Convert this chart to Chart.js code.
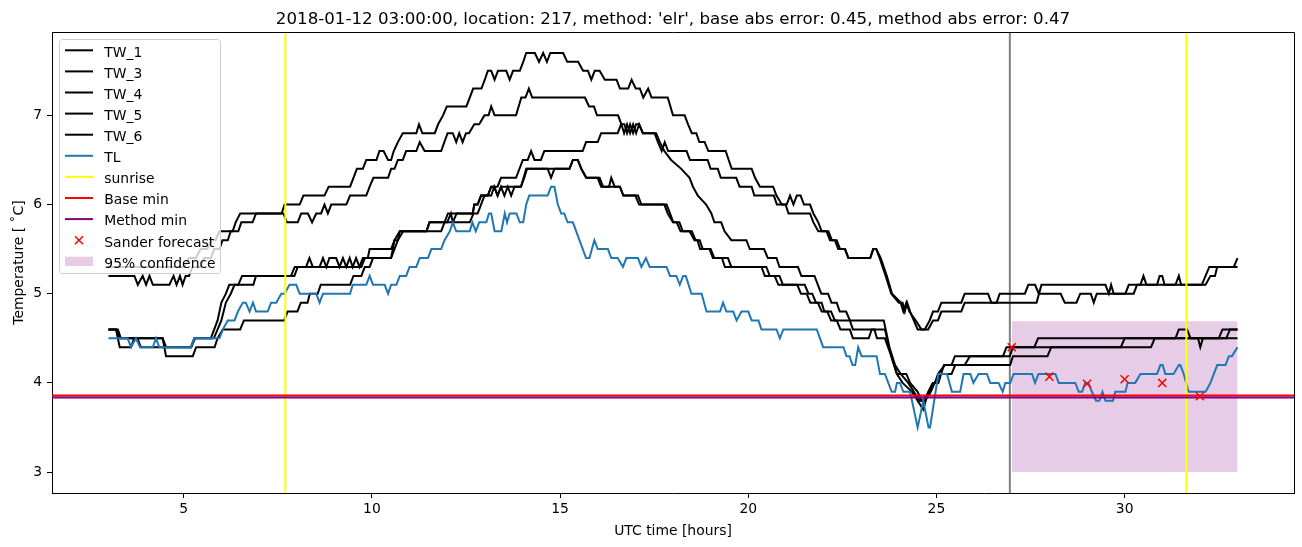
<!DOCTYPE html>
<html>
<head>
<meta charset="utf-8">
<script src="https://cdn.jsdelivr.net/npm/chart.js@4.4.1/dist/chart.umd.min.js"></script>
<style>
  html, body { margin: 0; padding: 0; background: #fff; }
  #wrap { width: 1302px; height: 547px; }
</style>
</head>
<body>
<div id="wrap"><canvas id="chart" width="1302" height="547"></canvas></div>
<script>
const titleText = "2018-01-12 03:00:00, location: 217, method: 'elr', base abs error: 0.45, method abs error: 0.47";
const xLabel = 'UTC time [hours]';
const yLabel = 'Temperature [ \u02daC]';
const xLimits = [1.5, 34.5];
const yLimits = [2.765, 7.935];

// measured series: [UTC hour, temperature]
const tw1 = [[3.0,5.3],[5.01,5.3],[5.14,5.4],[5.32,5.4],[5.45,5.5],[5.63,5.5],[5.72,5.6],[5.85,5.6],[5.94,5.7],[6.3,5.7],[6.38,5.8],[6.5,5.9],[7.6,5.9],[7.68,6.0],[8.08,6.0],[8.18,6.1],[8.74,6.1],[8.85,6.2],[9.42,6.2],[9.51,6.3],[9.6,6.4],[9.76,6.4],[9.85,6.5],[10.12,6.5],[10.2,6.6],[10.31,6.6],[10.43,6.5],[10.51,6.5],[10.58,6.6],[10.69,6.7],[10.82,6.8],[11.18,6.8],[11.25,6.9],[11.34,6.8],[11.67,6.8],[11.76,6.9],[11.89,7.0],[11.99,7.1],[12.51,7.1],[12.6,7.2],[12.69,7.3],[12.91,7.3],[13.0,7.4],[13.08,7.5],[13.17,7.5],[13.26,7.4],[13.35,7.5],[13.57,7.5],[13.66,7.4],[13.75,7.5],[13.93,7.5],[14.02,7.6],[14.1,7.7],[14.33,7.7],[14.44,7.6],[14.55,7.7],[14.65,7.6],[14.74,7.7],[15.08,7.7],[15.19,7.6],[15.48,7.6],[15.61,7.5],[15.74,7.5],[15.83,7.4],[15.92,7.5],[16.05,7.5],[16.19,7.4],[16.5,7.4],[16.59,7.3],[16.81,7.3],[16.9,7.4],[17.01,7.3],[17.12,7.3],[17.21,7.2],[17.34,7.3],[17.43,7.2],[17.86,7.2],[18.0,7.0],[18.31,7.0],[18.4,6.9],[18.5,6.8],[18.62,6.8],[18.7,6.7],[18.84,6.7],[18.94,6.6],[19.4,6.6],[19.48,6.5],[19.56,6.4],[20.09,6.4],[20.18,6.3],[20.31,6.2],[20.66,6.2],[20.75,6.1],[20.89,6.0],[21.02,6.0],[21.11,6.1],[21.2,6.0],[21.29,6.1],[21.39,6.1],[21.48,6.0],[21.64,6.0],[21.73,5.9],[21.86,5.8],[21.95,5.7],[22.13,5.7],[22.22,5.6],[22.3,5.6],[22.39,5.5],[22.57,5.5],[22.66,5.4],[23.24,5.4],[23.32,5.5],[23.4,5.5],[23.49,5.4],[23.65,5.2],[23.8,5.0],[24.0,4.9],[24.1,4.9],[24.16,4.8],[24.22,4.9],[24.3,4.8],[24.5,4.6],[24.69,4.6],[24.82,4.7],[24.91,4.8],[25.04,4.8],[25.13,4.9],[25.66,4.9],[25.75,5.0],[26.37,5.0],[26.46,4.9],[26.6,4.9],[26.68,5.0],[27.35,5.0],[27.44,5.1],[27.62,5.1],[27.72,5.0],[28.3,5.0],[28.41,4.9],[28.72,4.9],[28.82,5.0],[29.1,5.0],[29.18,4.9],[29.26,5.0],[30.02,5.0],[30.11,5.1],[30.42,5.1],[30.5,5.2],[30.58,5.1],[30.86,5.1],[30.93,5.2],[31.0,5.2],[31.06,5.1],[31.35,5.1],[31.44,5.2],[31.5,5.1],[32.15,5.1],[32.28,5.2],[32.4,5.2],[32.46,5.3],[33.0,5.3]];
const tw3 = [[3.0,5.2],[3.69,5.2],[3.78,5.1],[3.91,5.2],[4.0,5.1],[4.09,5.2],[4.18,5.1],[4.62,5.1],[4.73,5.2],[4.81,5.1],[4.9,5.2],[4.97,5.1],[5.05,5.2],[5.14,5.2],[5.23,5.3],[5.45,5.3],[5.54,5.4],[5.72,5.4],[5.81,5.5],[5.95,5.5],[6.03,5.6],[6.17,5.6],[6.25,5.7],[6.45,5.7],[6.53,5.8],[6.83,5.8],[6.92,5.9],[7.65,5.9],[7.74,5.8],[8.03,5.8],[8.12,5.9],[8.3,5.9],[8.41,5.8],[8.52,5.9],[8.65,5.9],[8.74,6.0],[8.83,5.9],[8.92,6.0],[9.32,6.0],[9.42,6.1],[9.85,6.1],[9.94,6.2],[10.04,6.3],[10.43,6.3],[10.51,6.4],[10.6,6.4],[10.69,6.5],[10.82,6.5],[10.91,6.6],[11.18,6.6],[11.27,6.7],[11.4,6.6],[11.84,6.6],[12.01,6.8],[12.15,6.8],[12.24,6.7],[12.32,6.8],[12.41,6.7],[12.5,6.8],[12.58,6.8],[12.72,6.9],[12.85,6.9],[12.99,7.0],[13.1,7.0],[13.17,7.1],[13.26,7.0],[13.83,7.0],[13.97,7.2],[14.08,7.2],[14.17,7.3],[14.26,7.2],[15.66,7.2],[15.77,7.1],[15.9,7.1],[15.98,7.0],[16.54,7.0],[16.63,6.9],[16.7,6.8],[16.78,6.9],[16.86,6.8],[16.94,6.9],[17.02,6.8],[17.1,6.9],[17.2,6.8],[17.51,6.8],[17.6,6.7],[17.7,6.6],[17.78,6.7],[17.87,6.6],[18.36,6.6],[18.45,6.5],[18.92,6.5],[19.0,6.4],[19.19,6.4],[19.27,6.3],[19.68,6.3],[19.77,6.2],[20.09,6.2],[20.16,6.1],[20.68,6.1],[20.76,6.0],[20.99,6.0],[21.07,5.9],[21.64,5.9],[21.73,5.8],[21.86,5.7],[22.08,5.7],[22.17,5.6],[22.35,5.6],[22.44,5.5],[22.57,5.5],[22.66,5.4],[23.24,5.4],[23.32,5.5],[23.4,5.5],[23.52,5.4],[23.68,5.2],[23.82,5.0],[24.05,4.9],[24.12,4.8],[24.2,4.9],[24.28,4.8],[24.45,4.7],[24.6,4.6],[24.78,4.6],[24.91,4.7],[25.04,4.7],[25.13,4.8],[25.66,4.8],[25.75,4.9],[27.66,4.9],[27.79,5.1],[29.49,5.1],[29.58,5.0],[29.64,5.1],[29.71,5.0],[30.24,5.0],[30.33,5.1],[32.05,5.1],[32.15,5.2],[32.25,5.3],[32.9,5.3],[33.0,5.4]];
const tw4 = [[3.0,4.6],[3.2,4.6],[3.3,4.4],[3.6,4.4],[3.68,4.5],[3.77,4.5],[3.86,4.4],[5.19,4.4],[5.28,4.5],[5.72,4.5],[5.81,4.6],[5.9,4.7],[6.0,4.9],[6.12,5.0],[6.21,5.1],[6.45,5.1],[6.55,5.2],[7.94,5.2],[8.03,5.3],[8.25,5.3],[8.34,5.4],[8.43,5.3],[8.61,5.3],[8.7,5.4],[8.79,5.3],[8.87,5.4],[9.05,5.4],[9.14,5.3],[9.23,5.4],[9.32,5.3],[9.41,5.4],[9.49,5.3],[9.58,5.4],[9.67,5.3],[9.76,5.4],[9.89,5.4],[9.94,5.5],[10.51,5.5],[10.6,5.6],[10.69,5.6],[10.74,5.7],[11.45,5.7],[11.53,5.8],[11.93,5.8],[12.02,5.9],[12.68,5.9],[12.72,6.0],[12.81,6.0],[12.9,6.1],[13.08,6.1],[13.17,6.2],[13.34,6.2],[13.43,6.3],[13.83,6.3],[14.01,6.5],[14.14,6.5],[14.23,6.6],[14.32,6.5],[14.49,6.5],[14.58,6.6],[15.6,6.6],[15.69,6.7],[16.0,6.7],[16.09,6.8],[16.53,6.8],[16.62,6.9],[16.71,6.9],[16.78,6.8],[16.86,6.9],[16.94,6.8],[17.02,6.9],[17.1,6.9],[17.2,6.8],[17.55,6.8],[17.65,6.7],[17.77,6.6],[17.95,6.5],[18.22,6.4],[18.44,6.3],[18.53,6.2],[18.66,6.1],[18.88,6.0],[19.02,5.9],[19.1,5.8],[19.28,5.8],[19.37,5.7],[19.55,5.6],[19.95,5.6],[20.04,5.5],[20.42,5.5],[20.52,5.4],[20.75,5.4],[20.83,5.3],[21.32,5.3],[21.41,5.2],[21.76,5.2],[21.85,5.1],[21.94,5.0],[22.12,5.0],[22.21,4.9],[22.35,4.9],[22.43,4.8],[22.6,4.8],[22.7,4.7],[23.6,4.7],[23.75,4.4],[23.9,4.2],[24.05,4.1],[24.25,4.0],[24.4,3.9],[24.55,3.8],[24.63,3.8],[24.8,3.9],[24.96,4.0],[25.04,4.1],[25.22,4.2],[25.4,4.2],[25.49,4.3],[26.95,4.3],[27.03,4.4],[27.6,4.4],[27.7,4.5],[31.35,4.5],[31.44,4.6],[31.66,4.6],[31.75,4.5],[32.5,4.5],[32.6,4.6],[33.0,4.6]];
const tw5 = [[3.0,4.6],[3.25,4.6],[3.33,4.5],[4.44,4.5],[4.53,4.3],[5.24,4.3],[5.33,4.4],[5.82,4.4],[5.9,4.5],[6.04,4.6],[6.5,4.6],[6.6,4.7],[7.67,4.7],[7.76,4.8],[8.02,4.8],[8.11,4.9],[8.29,4.9],[8.35,5.0],[8.56,5.0],[8.64,5.1],[9.42,5.1],[9.51,5.2],[9.72,5.2],[9.81,5.3],[9.94,5.3],[10.03,5.4],[10.51,5.4],[10.6,5.5],[10.69,5.6],[10.83,5.7],[11.84,5.7],[11.93,5.8],[12.6,5.8],[12.7,5.9],[12.81,5.9],[12.9,6.0],[12.99,6.1],[13.17,6.1],[13.25,6.2],[13.34,6.1],[13.43,6.2],[13.96,6.2],[14.05,6.3],[14.12,6.4],[15.25,6.4],[15.34,6.5],[15.47,6.5],[15.57,6.4],[15.7,6.3],[16.05,6.3],[16.14,6.2],[16.59,6.2],[16.68,6.1],[17.07,6.1],[17.16,6.0],[17.77,6.0],[17.86,5.9],[18.0,5.8],[18.17,5.8],[18.26,5.7],[18.44,5.7],[18.57,5.6],[18.71,5.6],[18.79,5.5],[18.97,5.5],[19.06,5.4],[19.46,5.4],[19.55,5.3],[20.48,5.3],[20.57,5.2],[20.83,5.2],[20.92,5.1],[21.5,5.1],[21.6,5.0],[21.7,5.0],[21.8,4.9],[21.95,4.9],[22.02,4.8],[22.2,4.8],[22.3,4.7],[22.7,4.7],[22.78,4.6],[23.63,4.6],[23.8,4.3],[23.95,4.1],[24.1,4.0],[24.35,3.9],[24.5,3.8],[24.65,3.7],[24.78,3.9],[24.9,4.0],[25.05,4.0],[25.2,4.2],[26.96,4.2],[27.03,4.3],[27.95,4.3],[28.05,4.4],[30.7,4.4],[30.8,4.5],[33.0,4.5]];
const tw6 = [[3.0,4.6],[3.2,4.6],[3.3,4.5],[4.44,4.5],[4.53,4.4],[5.2,4.4],[5.3,4.5],[5.8,4.5],[5.9,4.6],[6.0,4.7],[6.12,4.9],[6.25,5.0],[6.35,5.1],[6.85,5.1],[6.92,5.2],[7.85,5.2],[7.95,5.3],[9.72,5.3],[9.81,5.4],[10.51,5.4],[10.6,5.6],[10.74,5.7],[11.45,5.7],[11.53,5.8],[12.0,5.8],[12.1,5.9],[12.15,5.8],[12.25,5.9],[12.68,5.9],[12.72,6.0],[12.81,6.0],[12.9,6.1],[13.08,6.1],[13.17,6.2],[13.25,6.2],[13.34,6.1],[13.43,6.2],[13.52,6.1],[13.61,6.2],[13.7,6.1],[13.79,6.2],[13.96,6.2],[14.1,6.4],[14.67,6.4],[14.76,6.3],[14.85,6.4],[15.25,6.4],[15.34,6.5],[15.47,6.5],[15.56,6.4],[15.69,6.3],[16.0,6.3],[16.09,6.2],[16.3,6.2],[16.36,6.3],[16.45,6.2],[16.59,6.2],[16.68,6.1],[17.0,6.1],[17.1,6.0],[17.83,6.0],[17.92,5.9],[18.01,5.8],[18.1,5.8],[18.2,5.7],[18.5,5.7],[18.6,5.6],[18.65,5.6],[18.72,5.5],[19.0,5.5],[19.1,5.4],[19.3,5.4],[19.38,5.3],[20.35,5.3],[20.44,5.2],[20.7,5.2],[20.8,5.1],[21.3,5.1],[21.4,5.0],[21.55,5.0],[21.65,4.9],[21.85,4.9],[21.95,4.8],[22.1,4.8],[22.2,4.7],[22.35,4.7],[22.45,4.6],[22.7,4.6],[22.78,4.5],[23.2,4.5],[23.28,4.6],[23.35,4.6],[23.42,4.5],[23.63,4.5],[23.8,4.3],[23.95,4.1],[24.2,4.1],[24.3,4.0],[24.5,3.9],[24.6,3.8],[24.7,3.8],[24.85,3.9],[24.95,4.0],[25.1,4.1],[25.4,4.1],[25.5,4.2],[25.75,4.2],[25.89,4.3],[26.77,4.3],[26.86,4.4],[29.9,4.4],[30.0,4.5],[31.95,4.5],[32.01,4.4],[32.08,4.5],[32.7,4.5],[32.8,4.6],[33.0,4.6]];
const tl = [[3.0,4.5],[3.51,4.5],[3.6,4.4],[3.73,4.5],[3.84,4.4],[4.18,4.4],[4.26,4.5],[4.35,4.4],[5.19,4.4],[5.28,4.5],[5.95,4.5],[6.04,4.6],[6.17,4.7],[6.35,4.7],[6.44,4.8],[6.57,4.9],[6.65,4.9],[6.75,4.8],[6.84,4.9],[6.92,4.8],[7.23,4.8],[7.32,4.9],[7.46,4.9],[7.59,5.0],[7.68,5.0],[7.81,5.1],[7.99,5.1],[8.08,5.0],[8.52,5.0],[8.61,4.9],[8.7,5.0],[9.42,5.0],[9.49,5.1],[9.85,5.1],[9.94,5.2],[10.03,5.1],[10.34,5.1],[10.43,5.0],[10.51,5.1],[10.65,5.1],[10.74,5.2],[10.91,5.2],[11.0,5.3],[11.18,5.3],[11.27,5.4],[11.49,5.4],[11.58,5.5],[11.84,5.5],[11.93,5.6],[12.07,5.7],[12.15,5.8],[12.24,5.7],[12.6,5.7],[12.67,5.8],[12.76,5.7],[12.85,5.8],[13.04,5.8],[13.11,5.9],[13.17,5.9],[13.26,5.7],[13.44,5.7],[13.53,5.9],[13.59,5.8],[13.66,5.9],[13.84,5.9],[13.93,5.8],[14.02,5.8],[14.1,6.0],[14.18,6.1],[14.67,6.1],[14.76,6.2],[14.85,6.2],[14.94,6.0],[15.03,5.9],[15.11,5.9],[15.2,5.8],[15.34,5.8],[15.69,5.4],[15.78,5.4],[15.91,5.6],[16.0,5.5],[16.27,5.5],[16.36,5.4],[16.53,5.4],[16.67,5.3],[16.76,5.4],[17.07,5.4],[17.16,5.3],[17.28,5.4],[17.38,5.3],[17.83,5.3],[17.92,5.2],[18.09,5.2],[18.18,5.1],[18.27,5.2],[18.34,5.2],[18.49,5.0],[18.76,5.0],[18.89,4.8],[19.25,4.8],[19.33,4.9],[19.42,4.8],[19.6,4.8],[19.69,4.7],[19.82,4.8],[20.0,4.8],[20.09,4.7],[20.27,4.7],[20.35,4.6],[20.75,4.6],[20.84,4.5],[20.93,4.6],[21.82,4.6],[21.99,4.4],[22.53,4.4],[22.61,4.3],[22.69,4.3],[22.77,4.2],[22.84,4.2],[22.92,4.4],[23.01,4.3],[23.41,4.3],[23.5,4.1],[23.63,4.1],[23.81,3.9],[23.9,3.9],[23.95,4.0],[24.03,4.0],[24.12,3.9],[24.3,3.9],[24.5,3.5],[24.65,3.8],[24.79,3.5],[24.83,3.5],[25.05,4.1],[25.28,4.1],[25.41,3.9],[25.63,3.9],[25.72,4.1],[25.9,4.1],[25.98,4.0],[26.12,4.1],[26.34,4.1],[26.43,4.0],[26.65,4.0],[26.76,3.9],[26.83,4.0],[26.96,4.0],[27.05,4.1],[27.54,4.1],[27.62,4.0],[27.71,4.1],[28.16,4.1],[28.25,4.0],[28.69,4.0],[28.78,3.9],[28.87,3.9],[28.95,4.0],[29.04,4.0],[29.13,3.9],[29.24,3.8],[29.33,3.8],[29.41,3.9],[29.49,3.8],[29.69,3.8],[29.75,3.9],[30.02,3.9],[30.08,4.0],[30.28,4.0],[30.42,4.1],[30.86,4.1],[30.95,4.2],[31.01,4.2],[31.08,4.1],[31.3,4.1],[31.44,4.2],[31.48,4.2],[31.57,4.1],[31.7,3.9],[32.15,3.9],[32.28,4.0],[32.37,4.1],[32.46,4.2],[32.68,4.2],[32.77,4.3],[32.85,4.3],[33.0,4.4]];

const sunriseHours = [7.7, 31.64];
const forecastHour = 26.95;
const baseMin = 3.858;
const methodMin = 3.835;
const sanderHours = [27, 28, 29, 30, 31, 32];
const sanderValues = [4.40, 4.07, 3.99, 4.04, 4.00, 3.85];
const confHours = [27, 33];
const confLow = 3.0;
const confHigh = 4.69;

const FONT = 'DejaVu Sans';
Chart.defaults.font.family = FONT;
Chart.defaults.font.size = 13.9;
Chart.defaults.color = '#000';

const pts = arr => arr.map(p => ({ x: p[0], y: p[1] }));
const vline = x => [{ x: x, y: yLimits[0] }, { x: x, y: yLimits[1] }];
const hline = y => [{ x: xLimits[0], y: y }, { x: xLimits[1], y: y }];

function lineSet(label, data, color, legendKind) {
  return { label, data, borderColor: color, backgroundColor: color, borderWidth: 2,
           pointRadius: 0, fill: false, tension: 0, legendKind };
}

const confColor = 'rgba(128,0,128,0.2)';
const datasets = [
  { label: '95% confidence', data: confHours.map(h => ({ x: h, y: confHigh })),
    borderWidth: 0, borderColor: 'rgba(0,0,0,0)', backgroundColor: confColor, pointRadius: 0,
    fill: { target: { value: confLow }, above: confColor, below: confColor }, legendKind: 'patch' },
  lineSet('forecast', vline(forecastHour), '#808080', null),
  lineSet('TW_1', pts(tw1), '#000000', 'line'),
  lineSet('TW_3', pts(tw3), '#000000', 'line'),
  lineSet('TW_4', pts(tw4), '#000000', 'line'),
  lineSet('TW_5', pts(tw5), '#000000', 'line'),
  lineSet('TW_6', pts(tw6), '#000000', 'line'),
  lineSet('TL', pts(tl), '#1f77b4', 'line'),
  lineSet('sunrise', vline(sunriseHours[0]), '#ffff00', 'line'),
  lineSet('sunrise2', vline(sunriseHours[1]), '#ffff00', null),
  lineSet('Base min', hline(baseMin), '#ff0000', 'line'),
  lineSet('Method min', hline(methodMin), '#800080', 'line'),
  { label: 'Sander forecast', data: sanderHours.map((h, i) => ({ x: h, y: sanderValues[i] })),
    showLine: false, pointStyle: 'crossRot', pointRadius: 5.7, pointBorderWidth: 1.5,
    borderColor: '#ff0000', backgroundColor: '#ff0000', legendKind: 'marker' }
];
// matplotlib draws later artists on top
datasets.forEach((d, i) => { d.order = datasets.length - i; });

// legend order as in the reference
const legendOrder = ['TW_1', 'TW_3', 'TW_4', 'TW_5', 'TW_6', 'TL', 'sunrise', 'Base min', 'Method min', 'Sander forecast', '95% confidence'];

const decorPlugin = {
  id: 'decor',
  afterDatasetsDraw(chart) {
    const ctx = chart.ctx;
    ctx.save();
    // legend box
    ctx.fillStyle = 'rgba(255,255,255,0.8)';
    ctx.strokeStyle = '#cccccc';
    ctx.lineWidth = 1;
    ctx.beginPath();
    if (ctx.roundRect) ctx.roundRect(59.5, 39.5, 161, 234, 3); else ctx.rect(59.5, 39.5, 161, 234);
    ctx.fill();
    ctx.stroke();
    ctx.font = '13.9px "' + FONT + '"';
    ctx.textBaseline = 'alphabetic';
    ctx.textAlign = 'left';
    legendOrder.forEach((name, i) => {
      const d = chart.data.datasets.find(ds => ds.label === name);
      const y = 50.3 + i * 21.1;
      if (d.legendKind === 'line') {
        ctx.strokeStyle = d.borderColor;
        ctx.lineWidth = 2;
        ctx.beginPath(); ctx.moveTo(65, y); ctx.lineTo(93, y); ctx.stroke();
      } else if (d.legendKind === 'marker') {
        ctx.strokeStyle = d.borderColor;
        ctx.lineWidth = 1.5;
        ctx.beginPath();
        ctx.moveTo(75, y - 4); ctx.lineTo(83, y + 4);
        ctx.moveTo(75, y + 4); ctx.lineTo(83, y - 4);
        ctx.stroke();
      } else {
        ctx.fillStyle = confColor;
        ctx.fillRect(65, y - 4.6, 28, 9.3);
      }
      ctx.fillStyle = '#000';
      ctx.fillText(name, 104.3, y + 6.3);
    });
    ctx.restore();
  },
  afterDraw(chart) {
    const ctx = chart.ctx;
    const a = chart.chartArea;
    ctx.save();
    ctx.strokeStyle = '#000';
    ctx.lineWidth = 1;
    ctx.beginPath();
    ctx.moveTo(Math.round(a.left) + 0.5, Math.round(a.top) + 0.5);
    ctx.lineTo(Math.round(a.right) + 0.5, Math.round(a.top) + 0.5);
    ctx.lineTo(Math.round(a.right) + 0.5, Math.round(a.bottom) + 0.5);
    ctx.stroke();
    ctx.fillStyle = '#000';
    ctx.textAlign = 'center';
    ctx.textBaseline = 'alphabetic';
    const cx = (a.left + a.right) / 2;
    ctx.font = '16.67px "' + FONT + '"';
    ctx.fillText(titleText, cx, 24);
    ctx.font = '13.9px "' + FONT + '"';
    ctx.fillText(xLabel, cx, 535);
    ctx.translate(23, (a.top + a.bottom) / 2);
    ctx.rotate(-Math.PI / 2);
    ctx.fillText(yLabel, 0, 0);
    ctx.restore();
  }
};

const axisCommon = {
  type: 'linear',
  grid: { display: true, drawOnChartArea: false, drawTicks: true, tickLength: 5, color: '#000', lineWidth: 1 },
  border: { display: true, color: '#000', width: 1 }
};

new Chart(document.getElementById('chart'), {
  type: 'line',
  data: { datasets },
  options: {
    responsive: false,
    animation: false,
    events: [],
    layout: { padding: { top: 32, right: 8, left: 0, bottom: 0 } },
    plugins: { legend: { display: false }, title: { display: false }, tooltip: { enabled: false } },
    scales: {
      x: Object.assign({}, axisCommon, {
        min: xLimits[0], max: xLimits[1],
        ticks: { stepSize: 5, includeBounds: false, padding: 3, maxRotation: 0, autoSkip: false, color: '#000' },
        afterFit: s => { s.height = 54; }
      }),
      y: Object.assign({}, axisCommon, {
        min: yLimits[0], max: yLimits[1],
        ticks: { stepSize: 1, includeBounds: false, padding: 5, color: '#000' },
        afterFit: s => { s.width = 52; }
      })
    }
  },
  plugins: [decorPlugin]
});
</script>
</body>
</html>
